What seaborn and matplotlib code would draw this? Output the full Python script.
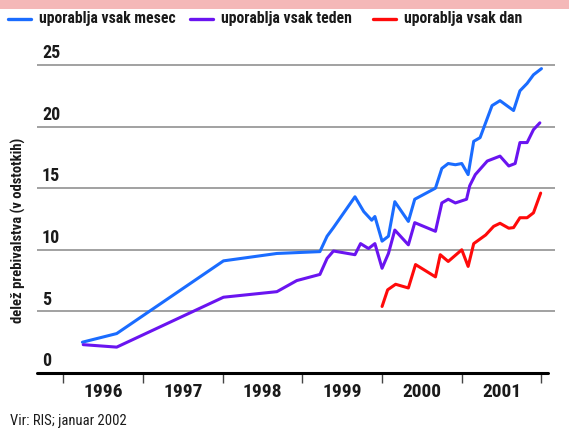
import matplotlib
matplotlib.use("Agg")
import matplotlib.pyplot as plt
import seaborn as sns
import pandas as pd
from matplotlib.patches import Rectangle
from matplotlib.lines import Line2D

# --- data ---
mesec_x = [1996.24, 1996.67, 1998.01, 1998.68, 1999.22, 1999.31, 1999.39, 1999.66, 1999.77, 1999.87,
           1999.91, 2000.0, 2000.08, 2000.16, 2000.33, 2000.41, 2000.67, 2000.75, 2000.83, 2000.92,
           2001.0, 2001.08, 2001.15, 2001.23, 2001.38, 2001.48, 2001.65, 2001.73, 2001.82, 2001.9, 2002.0]
mesec_y = [2.5, 3.2, 9.1, 9.7, 9.85, 11.1, 11.8, 14.3, 13.1, 12.4,
           12.7, 10.7, 11.1, 13.9, 12.3, 14.1, 15.0, 16.6, 17.0, 16.9,
           17.0, 16.1, 18.8, 19.1, 21.7, 22.1, 21.3, 22.9, 23.5, 24.2, 24.7]

teden_x = [1996.25, 1996.67, 1998.01, 1998.68, 1998.93, 1999.22, 1999.31, 1999.39, 1999.66, 1999.73,
           1999.83, 1999.91, 2000.0, 2000.08, 2000.16, 2000.33, 2000.41, 2000.67, 2000.75, 2000.83,
           2000.92, 2001.06, 2001.1, 2001.17, 2001.32, 2001.48, 2001.59, 2001.67, 2001.73, 2001.82,
           2001.9, 2001.98]
teden_y = [2.3, 2.1, 6.15, 6.6, 7.5, 8.0, 9.3, 9.9, 9.6, 10.5,
           10.1, 10.5, 8.5, 9.7, 11.6, 10.4, 12.2, 11.5, 13.8, 14.1,
           13.8, 14.1, 15.2, 16.1, 17.2, 17.6, 16.8, 17.0, 18.7, 18.7,
           19.75, 20.3]

dan_x = [2000.0, 2000.07, 2000.17, 2000.33, 2000.42, 2000.67, 2000.73, 2000.83, 2001.0, 2001.08,
         2001.15, 2001.3, 2001.4, 2001.48, 2001.59, 2001.65, 2001.73, 2001.82, 2001.9, 2001.99]
dan_y = [5.4, 6.75, 7.2, 6.9, 8.8, 7.8, 9.6, 9.05, 10.0, 8.65,
         10.5, 11.2, 11.9, 12.15, 11.75, 11.8, 12.6, 12.6, 13.0, 14.6]

series_names = ["uporablja vsak mesec", "uporablja vsak teden", "uporablja vsak dan"]
colors = ["#1a6cff", "#6a14f0", "#ff0a0a"]
years = [1996, 1997, 1998, 1999, 2000, 2001]
yticks = [0, 5, 10, 15, 20, 25]

df = pd.concat([
    pd.DataFrame({"leto": mesec_x, "delez": mesec_y, "serija": series_names[0]}),
    pd.DataFrame({"leto": teden_x, "delez": teden_y, "serija": series_names[1]}),
    pd.DataFrame({"leto": dan_x, "delez": dan_y, "serija": series_names[2]}),
])

sns.set_theme(style="white")
plt.rcParams['font.family'] = ['Roboto Condensed', 'Liberation Sans Narrow', 'DejaVu Sans']
plt.rcParams['font.stretch'] = 'condensed'

fig = plt.figure(figsize=(5.69, 4.34), dpi=100)
ax = fig.add_axes([37 / 569, 61 / 434, 518 / 569, 313 / 434])

# gridlines (behind)
for v in yticks[1:]:
    ax.axhline(v, color="#9a9a9a", lw=1.3, zorder=1)

sns.lineplot(data=df, x="leto", y="delez", hue="serija", palette=colors,
             sort=False, estimator=None, lw=2.2, legend=False, ax=ax, zorder=3)

ax.set_xlim(1995.67, 2002.17)
ax.set_ylim(0, 25.4)
for s in ax.spines.values():
    s.set_visible(False)
ax.axhline(0, xmin=0, xmax=511 / 518, color="black", lw=2.2, zorder=4, clip_on=False)

# year ticks & labels
ax.set_xticks(years + [2002])
ax.set_xticklabels([])
ax.tick_params(axis="x", which="major", direction="out", length=7, width=1, color="#444444", bottom=True)
ax.set_xticks([y + 0.5 for y in years], minor=True)
ax.set_xticklabels([str(y) for y in years], minor=True, fontsize=14, fontweight="bold", color="#1a1a1a")
ax.tick_params(axis="x", which="minor", length=0, pad=7)
ax.set_yticks([])
ax.set_xlabel("")
ax.set_ylabel("")

for v in yticks:
    ax.annotate(str(v), xy=(5 / 518, v), xycoords=("axes fraction", "data"),
                xytext=(0, 2), textcoords="offset points",
                ha="left", va="bottom", fontsize=13, fontweight="bold", color="#1a1a1a")

fig.text(18 / 569, 1 - 230 / 434, "delež prebivalstva (v odstotkih)", rotation=90,
         ha="center", va="center", fontsize=10.5, fontweight="bold", color="#1a1a1a")

# legend: one line + label per series, placed like the reference
leg_x = [8, 190, 373]
for x0, c, name in zip(leg_x, colors, series_names):
    fig.add_artist(Line2D([x0 / 569, (x0 + 23) / 569], [1 - 19 / 434] * 2,
                          transform=fig.transFigure, color=c, lw=2.4))
    fig.text((x0 + 31) / 569, 1 - 19 / 434, name, ha="left", va="center",
             fontsize=11.3, fontweight="bold", color="#1a1a1a")

# source
fig.text(10 / 569, 1 - 421 / 434, "Vir: RIS; januar 2002", ha="left", va="center",
         fontsize=10.5, color="#1a1a1a")

# pink title band (cut off in the reference)
fig.patches.append(Rectangle((0, 1 - 9 / 434), 1, 9 / 434, transform=fig.transFigure,
                             facecolor="#f4b8b8", edgecolor="none", zorder=0))

fig.savefig("out.png", dpi=100)
